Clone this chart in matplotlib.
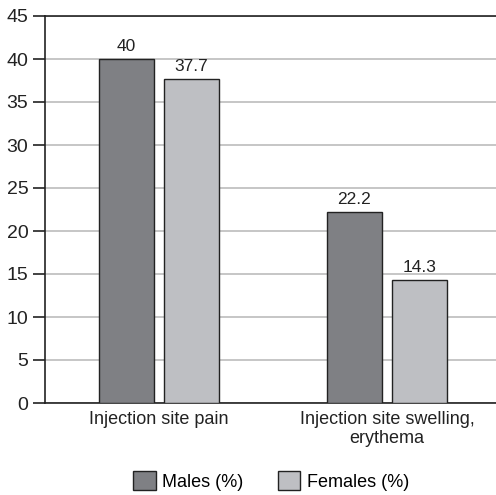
import matplotlib
matplotlib.use("Agg")
import matplotlib.pyplot as plt
from matplotlib import font_manager
import numpy as np

categories = ["Injection site pain", "Injection site swelling,\nerythema"]
series_names = ["Males (%)", "Females (%)"]
males = [40, 22.2]
females = [37.7, 14.3]
yticks = [0, 5, 10, 15, 20, 25, 30, 35, 40, 45]

names = {f.name for f in font_manager.fontManager.ttflist}
family = "Liberation Sans Narrow" if "Liberation Sans Narrow" in names else "Liberation Sans"
plt.rcParams["font.family"] = [family, "DejaVu Sans"]

fig = plt.figure(figsize=(4.96, 4.95), dpi=100)
ax = fig.add_axes([45 / 496, 1 - 403 / 495, 1 - 45 / 496 + 0.01, (403 - 16) / 495])

x = np.arange(len(categories))
w = 0.24
off = 0.143
c_m, c_f = "#7f8084", "#bebfc3"
b1 = ax.bar(x - off, males, w, color=c_m, edgecolor="#222222", linewidth=1.0, zorder=3, label=series_names[0])
b2 = ax.bar(x + off, females, w, color=c_f, edgecolor="#222222", linewidth=1.0, zorder=3, label=series_names[1])

for bars, vals in ((b1, males), (b2, females)):
    for r, v in zip(bars, vals):
        ax.text(r.get_x() + r.get_width() / 2, v + 0.6, f"{v:g}", ha="center", va="bottom",
                fontsize=12.5, color="#222222")

ax.set_xlim(-0.5, 1.5)
ax.set_ylim(0, 45)
ax.set_yticks(yticks)
ax.yaxis.grid(True, color="#bcbcbc", linewidth=1.2, zorder=0)
ax.set_axisbelow(True)
ax.set_xticks(x)
ax.set_xticklabels(categories, fontsize=13, color="#222222", linespacing=1.15)
ax.tick_params(axis="x", length=0, pad=6)
ax.tick_params(axis="y", length=9, width=1.2, labelsize=14, colors="#222222", pad=3)
for s in ("left", "bottom", "top"):
    ax.spines[s].set_color("#222222")
    ax.spines[s].set_linewidth(1.2)
ax.spines["right"].set_visible(False)

fig.legend(handles=[b1, b2], labels=series_names, loc="center", bbox_to_anchor=(271 / 496, 1 - 481 / 495),
           ncol=2, frameon=False, fontsize=13, handlelength=1.25, handleheight=1.25,
           columnspacing=1.9, handletextpad=0.35)

fig.savefig("out.png", dpi=100)
